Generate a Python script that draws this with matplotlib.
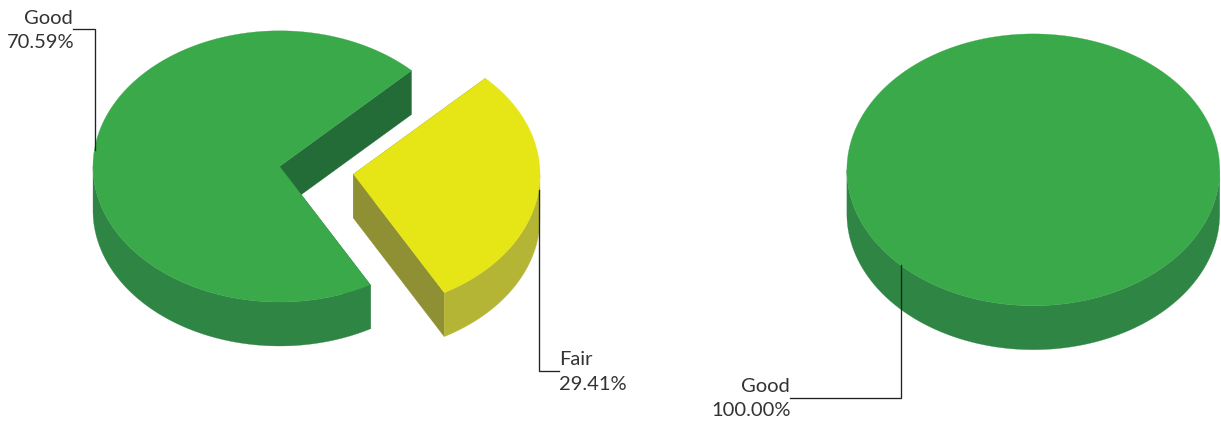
import numpy as np
import matplotlib
matplotlib.use("Agg")
import matplotlib.pyplot as plt
from matplotlib.patches import Polygon

# Data
left_categories = ["Good", "Fair"]
left_values = [70.59, 29.41]
left_labels = ["70.59%", "29.41%"]
right_categories = ["Good"]
right_values = [100.00]
right_labels = ["100.00%"]

GREEN = ("#39A94A", "#2F8544", "#246C37")
YELLOW = ("#E6E617", "#B5B535", "#8F8F33")
FONT = "Lato"
FS = 14.5
RX, RY, DEPTH = 186.6, 135.6, 44.0
LINE = "#222222"

fig = plt.figure(figsize=(12.21, 4.21), dpi=100)
ax = fig.add_axes([0, 0, 1, 1])
ax.set_xlim(0, 1221)
ax.set_ylim(421, 0)
ax.axis("off")


def pt(c, a, rx=RX, ry=RY, dz=0.0):
    a = np.radians(a)
    return np.column_stack([c[0] + rx * np.cos(a), c[1] - ry * np.sin(a) + dz])


def wedge_3d(c, a0, a1, cols, rx=RX, ry=RY, z=1):
    """Slice running counter-clockwise from angle a0 to a1 (degrees)."""
    top, side, inner = cols
    th = np.linspace(a0, a1, 400)
    # cut faces
    for a in (a0, a1):
        edge = pt(c, np.array([a]), rx, ry)[0]
        face = [c, edge, edge + [0, DEPTH], (c[0], c[1] + DEPTH)]
        ax.add_patch(Polygon(face, closed=True, fc=inner, ec=inner, lw=0.2, zorder=z))
    # outer wall: only the front (lower) part of the rim is visible
    sel = np.sin(np.radians(th)) <= 0
    if sel.any():
        upper = pt(c, th[sel], rx, ry)
        lower = pt(c, th[sel], rx, ry, DEPTH)
        ax.add_patch(Polygon(np.vstack([upper, lower[::-1]]), closed=True,
                             fc=side, ec=side, lw=0.2, zorder=z + 1))
    # top face
    rim = pt(c, th, rx, ry)
    ax.add_patch(Polygon(np.vstack([[c], rim]), closed=True, fc=top, ec=top,
                         lw=0.2, zorder=z + 2))


def full_pie_3d(c, cols, rx, ry):
    top, side, _ = cols
    th = np.linspace(180, 360, 400)
    wall = np.vstack([pt(c, th, rx, ry), pt(c, th, rx, ry, DEPTH)[::-1]])
    ax.add_patch(Polygon(wall, closed=True, fc=side, ec=side, lw=0.2, zorder=1))
    th = np.linspace(0, 360, 720)
    ax.add_patch(Polygon(pt(c, th, rx, ry), closed=True, fc=top, ec=top, lw=0.2, zorder=2))


def leader(xs, ys):
    ax.plot(xs, ys, color=LINE, lw=0.95, solid_joinstyle="miter", zorder=10)


def label(x, y, s, ha):
    ax.text(x, y, s, ha=ha, va="baseline", fontsize=FS, family=FONT, color="#333333", zorder=11)


# Left pie: first slice starts at 45 deg and runs counter-clockwise
start = 45.0
good_end = start + 360 * left_values[0] / sum(left_values)
fair_end = good_end + 360 * left_values[1] / sum(left_values)
wedge_3d((279.6, 166.4), start, good_end, GREEN, z=1)
wedge_3d((353.4, 174.2), good_end, fair_end, YELLOW, z=5)

# Right pie
full_pie_3d((1033.3, 169.8), GREEN, 186.4, 135.9)

# Leaders and labels
leader([94.5, 94.5, 73], [150, 29.3, 29.3])
label(73, 24, left_categories[0], "right")
label(74, 48.5, left_labels[0], "right")

leader([538.5, 538.5, 559], [190, 370.5, 370.5])
label(559, 365, left_categories[1], "left")
label(559, 389.5, left_labels[1], "left")

leader([901.4, 901.4, 790], [265, 397.5, 397.5])
label(790, 392.5, right_categories[0], "right")
label(791, 416, right_labels[0], "right")

fig.savefig("out.png", dpi=100, facecolor="white")
